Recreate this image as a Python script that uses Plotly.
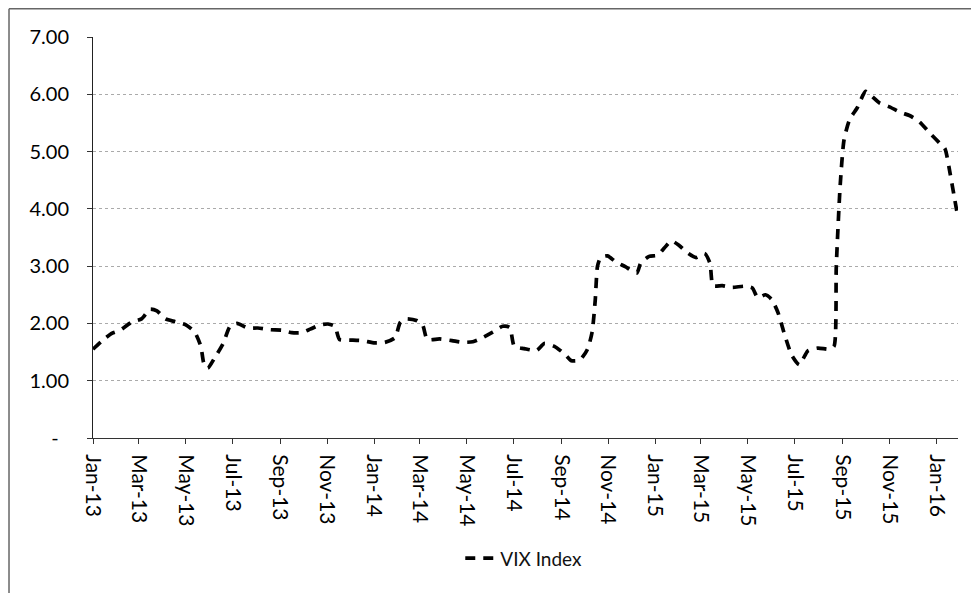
import plotly.graph_objects as go

dates = [
    "2013-01-01", "2013-01-13", "2013-01-26", "2013-02-05", "2013-02-20", "2013-03-05",
    "2013-03-16", "2013-03-25", "2013-04-05", "2013-04-18", "2013-05-01", "2013-05-13",
    "2013-05-21", "2013-05-25", "2013-05-30", "2013-06-08", "2013-06-19", "2013-06-28",
    "2013-07-07", "2013-07-21", "2013-08-03", "2013-08-19", "2013-09-04", "2013-09-16",
    "2013-09-29", "2013-10-10", "2013-10-22", "2013-11-02", "2013-11-11", "2013-11-17",
    "2013-11-30", "2013-12-16", "2014-01-02", "2014-01-15", "2014-01-28", "2014-02-04",
    "2014-02-12", "2014-02-25", "2014-03-05", "2014-03-11", "2014-03-27", "2014-04-12",
    "2014-04-26", "2014-05-09", "2014-05-20", "2014-06-04", "2014-06-17", "2014-06-26",
    "2014-07-02", "2014-07-15", "2014-07-31", "2014-08-10", "2014-08-23", "2014-09-05",
    "2014-09-14", "2014-09-25", "2014-10-05", "2014-10-11", "2014-10-15", "2014-10-18",
    "2014-10-22", "2014-10-31", "2014-11-10", "2014-11-23", "2014-12-08", "2014-12-13",
    "2014-12-24", "2015-01-04", "2015-01-13", "2015-01-22", "2015-02-01", "2015-02-12",
    "2015-02-23", "2015-03-06", "2015-03-13", "2015-03-17", "2015-03-29", "2015-04-11",
    "2015-04-27", "2015-05-07", "2015-05-14", "2015-05-24", "2015-06-01", "2015-06-09",
    "2015-06-18", "2015-06-27", "2015-07-07", "2015-07-18", "2015-07-31", "2015-08-15",
    "2015-08-21", "2015-08-24", "2015-08-29", "2015-09-03", "2015-09-10", "2015-09-20",
    "2015-10-01", "2015-10-08", "2015-10-19", "2015-11-01", "2015-11-16", "2015-11-27",
    "2015-12-10", "2015-12-25", "2016-01-05", "2016-01-12", "2016-01-19", "2016-01-24",
    "2016-01-28",
]

vix = [
    1.55, 1.70, 1.83, 1.88, 2.02, 2.08,
    2.25, 2.22, 2.08, 2.03, 1.98, 1.85,
    1.60, 1.30, 1.22, 1.40, 1.65, 1.95,
    2.00, 1.92, 1.92, 1.89, 1.88, 1.84,
    1.84, 1.90, 1.97, 1.99, 1.95, 1.72,
    1.71, 1.70, 1.66, 1.67, 1.75, 2.02,
    2.08, 2.05, 1.97, 1.72, 1.73, 1.70,
    1.67, 1.68, 1.74, 1.85, 1.95, 1.93,
    1.60, 1.56, 1.53, 1.65, 1.60, 1.47,
    1.35, 1.36, 1.55, 1.85, 2.40, 3.00,
    3.15, 3.18, 3.08, 2.99, 2.88, 3.05,
    3.17, 3.19, 3.32, 3.44, 3.36, 3.23,
    3.15, 3.22, 3.05, 2.66, 2.66, 2.63,
    2.65, 2.62, 2.45, 2.50, 2.42, 2.20,
    1.80, 1.45, 1.28, 1.52, 1.57, 1.55,
    1.60, 3.00, 4.40, 5.20, 5.55, 5.76,
    6.05, 5.98, 5.85, 5.78, 5.68, 5.63,
    5.52, 5.30, 5.15, 5.05, 4.60, 4.22,
    3.92,
]

y_tickvals = [0, 1, 2, 3, 4, 5, 6, 7]
y_ticktext = ["-\u00a0\u00a0", "1.00", "2.00", "3.00", "4.00", "5.00", "6.00", "7.00"]
series_name = "VIX Index"

FONT = "Lato, 'Open Sans', sans-serif"

fig = go.Figure()
fig.add_trace(go.Scatter(
    x=dates, y=vix, mode="lines", name=series_name,
    line=dict(color="black", width=3.7, dash="10px,8px", shape="spline", smoothing=0.6),
))

fig.update_layout(
    width=971, height=585,
    margin=dict(l=85, r=21, t=29, b=155),
    paper_bgcolor="white", plot_bgcolor="white",
    font=dict(family=FONT, color="black", size=19),
    showlegend=True,
    legend=dict(orientation="h", x=0.498, xanchor="center", y=-0.30, yanchor="middle",
                font=dict(size=19, family=FONT, color="#111")),
    xaxis=dict(
        type="date", range=["2013-01-01", "2016-01-29"],
        tick0="2013-01-01", dtick="M2", tickformat="%b-%y",
        tickangle=90, ticks="outside", ticklen=5, tickcolor="#333",
        showline=True, linecolor="#333", linewidth=1,
        showgrid=False, zeroline=False, ticklabelstandoff=6,
        tickfont=dict(size=21, family=FONT),
    ),
    yaxis=dict(
        range=[0, 7], tickvals=y_tickvals, ticktext=y_ticktext,
        ticks="outside", ticklen=5, tickcolor="#333",
        showline=True, linecolor="#222", linewidth=1,
        showgrid=True, gridcolor="#aaa", griddash="dot", gridwidth=1,
        zeroline=False, ticklabelstandoff=14,
        tickfont=dict(size=20, family=FONT),
    ),
    shapes=[
        dict(type="line", xref="paper", yref="paper", x0=-0.0971, x1=1.05, y0=1.0704, y1=1.0704,
             line=dict(color="#666", width=1.5)),
        dict(type="line", xref="paper", yref="paper", x0=-0.0971, x1=-0.0971, y0=1.0704, y1=-0.42,
             line=dict(color="#666", width=1.5)),
    ],
)

fig.write_html("out.html")
